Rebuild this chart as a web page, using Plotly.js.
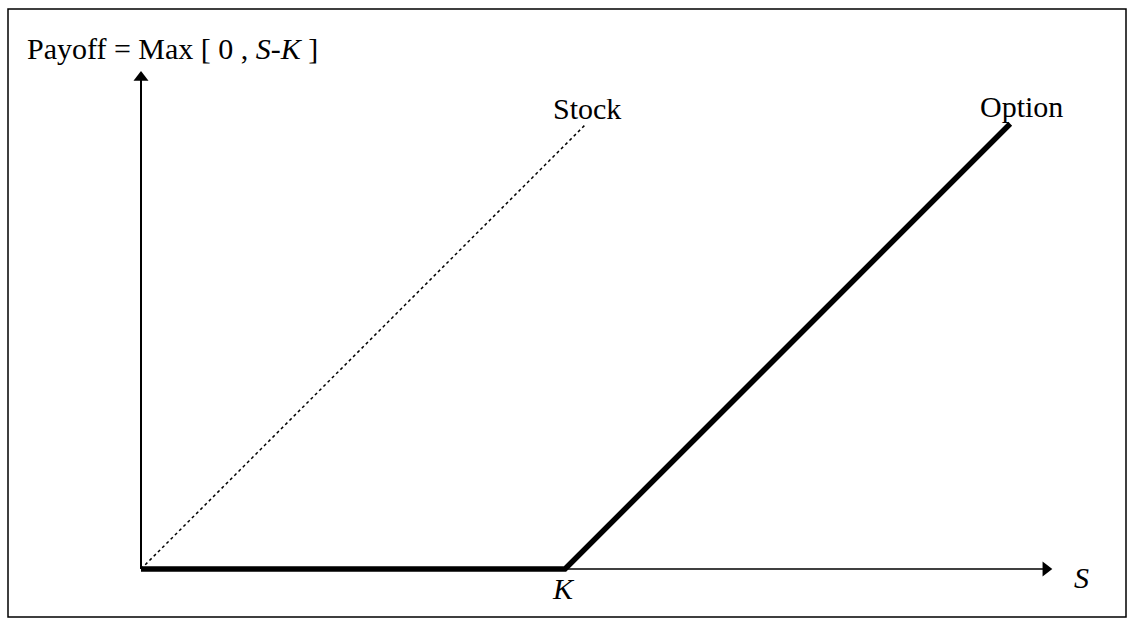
<!DOCTYPE html>
<html>
<head>
<meta charset="utf-8">
<script src="https://cdn.plot.ly/plotly-3.0.1.min.js"></script>
<style>html,body{margin:0;padding:0;background:#fff;}#chart{width:1135px;height:626px;}</style>
</head>
<body>
<div id="chart"></div>
<script>
// Data (units: strike K = 100)
const strikeK = 100;
const stockS = [0, 105];
const stockPayoff = [0, 105];
const optionS = [0, 100, 205];
const optionPayoff = [0, 0, 105];
const axisX = [0, 215];      // S axis from origin to arrow tip
const axisY = [0, 117.5];    // payoff axis from origin to arrow tip
const labels = {title: 'Payoff = Max [ 0 , <i>S-K</i> ]', stock: 'Stock', option: 'Option', k: '<i>K</i>', s: '<i>S</i>'};

const font = {family: 'Liberation Serif, Times New Roman, serif', color: '#000', size: 30};

const traces = [
  {x: [axisX[0], axisX[1] - 2], y: [0, 0], mode: 'lines', line: {color: '#000', width: 1.6}, hoverinfo: 'skip'},
  {x: [0, 0], y: [axisY[0], axisY[1] - 2], mode: 'lines', line: {color: '#000', width: 2}, hoverinfo: 'skip'},
  {x: [axisX[1] - 1.6], y: [0], mode: 'markers', marker: {symbol: 'triangle-right', size: 13, color: '#000'}, hoverinfo: 'skip'},
  {x: [0], y: [axisY[1] - 1.6], mode: 'markers', marker: {symbol: 'triangle-up', size: 13, color: '#000'}, hoverinfo: 'skip'},
  {x: stockS, y: stockPayoff, mode: 'lines', line: {color: '#000', width: 1.5, dash: 'dot'}, hoverinfo: 'skip'},
  {x: optionS, y: optionPayoff, mode: 'lines', line: {color: '#000', width: 5.5}, hoverinfo: 'skip'}
];

const pxPerUnit = 4.24;
const layout = {
  width: 1135, height: 626,
  margin: {l: 0, r: 0, t: 0, b: 0},
  paper_bgcolor: '#fff', plot_bgcolor: '#fff',
  showlegend: false,
  xaxis: {range: [-141 / pxPerUnit, (1135 - 141) / pxPerUnit], visible: false, fixedrange: true},
  yaxis: {range: [-(626 - 569) / pxPerUnit, 569 / pxPerUnit], visible: false, fixedrange: true},
  shapes: [
    {type: 'rect', xref: 'paper', yref: 'paper', x0: 8 / 1135, x1: 1126 / 1135, y0: 1 - 617 / 626, y1: 1 - 9 / 626,
     line: {color: '#000', width: 1.5}, fillcolor: 'rgba(0,0,0,0)'}
  ],
  annotations: [
    {xref: 'paper', yref: 'paper', x: 25 / 1135, y: 1 - 48 / 626, xanchor: 'left', yanchor: 'middle', text: labels.title, showarrow: false, font: font},
    {x: stockS[1], y: stockPayoff[1], xanchor: 'center', yanchor: 'middle', yshift: 15, xshift: 1, text: labels.stock, showarrow: false, font: font},
    {x: optionS[2], y: optionPayoff[2], xanchor: 'center', yanchor: 'middle', yshift: 17, xshift: 11, text: labels.option, showarrow: false, font: font},
    {x: strikeK, y: 0, xanchor: 'center', yanchor: 'middle', yshift: -19, xshift: -2, text: labels.k, showarrow: false, font: font},
    {x: axisX[1], y: 0, xanchor: 'center', yanchor: 'middle', xshift: 29, yshift: -8, text: labels.s, showarrow: false, font: font}
  ]
};

Plotly.newPlot('chart', traces, layout, {displayModeBar: false, staticPlot: true});
</script>
</body>
</html>
